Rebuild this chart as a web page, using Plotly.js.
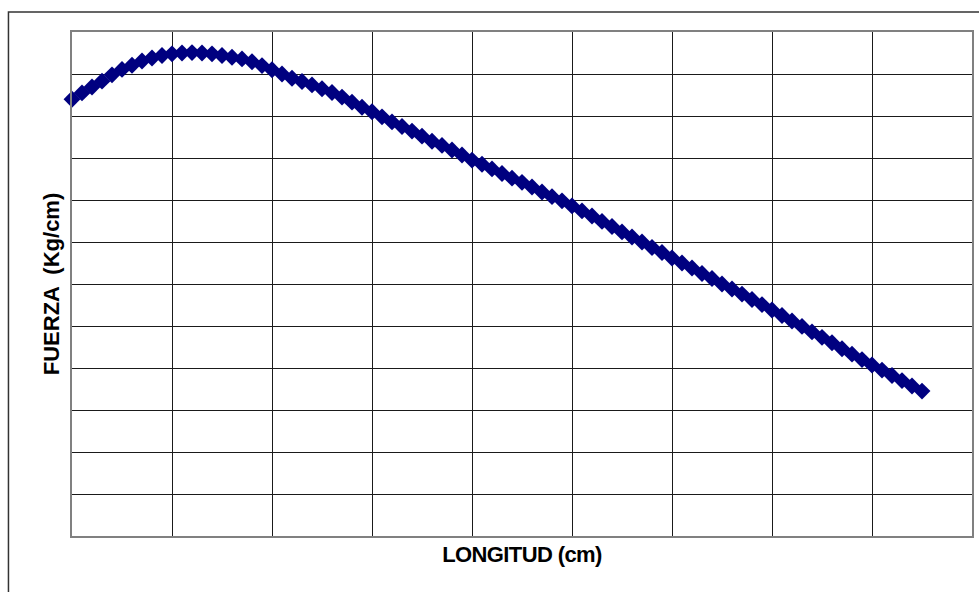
<!DOCTYPE html>
<html>
<head>
<meta charset="utf-8">
<script src="https://cdn.plot.ly/plotly-3.0.1.min.js"></script>
<style>
  html, body { margin: 0; padding: 0; background: #ffffff; }
  #chart { width: 979px; height: 592px; }
  .xtitle { letter-spacing: -0.6px; }
</style>
</head>
<body>
<div id="chart"></div>
<script>
// LONGITUD (cm)
const longitud = [
  0.0, 0.1, 0.2, 0.3, 0.4, 0.5, 0.6, 0.7, 0.8, 0.9,
  1.0, 1.1, 1.2, 1.3, 1.4, 1.5, 1.6, 1.7, 1.8, 1.9,
  2.0, 2.1, 2.2, 2.3, 2.4, 2.5, 2.6, 2.7, 2.8, 2.9,
  3.0, 3.1, 3.2, 3.3, 3.4, 3.5, 3.6, 3.7, 3.8, 3.9,
  4.0, 4.1, 4.2, 4.3, 4.4, 4.5, 4.6, 4.7, 4.8, 4.9,
  5.0, 5.1, 5.2, 5.3, 5.4, 5.5, 5.6, 5.7, 5.8, 5.9,
  6.0, 6.1, 6.2, 6.3, 6.4, 6.5, 6.6, 6.7, 6.8, 6.9,
  7.0, 7.1, 7.2, 7.3, 7.4, 7.5, 7.6, 7.7, 7.8, 7.9,
  8.0, 8.1, 8.2, 8.3, 8.4, 8.5
];
// FUERZA (Kg/cm)
const fuerza = [
  10.40, 10.55, 10.69, 10.83, 10.98, 11.11, 11.21, 11.31, 11.38, 11.44,
  11.48, 11.50, 11.51, 11.50, 11.48, 11.44, 11.40, 11.36, 11.29, 11.20,
  11.10, 11.00, 10.90, 10.82, 10.74, 10.65, 10.56, 10.45, 10.33, 10.21,
  10.10, 9.98, 9.86, 9.75, 9.64, 9.52, 9.40, 9.30, 9.19, 9.07,
  8.95, 8.85, 8.74, 8.63, 8.52, 8.42, 8.31, 8.19, 8.08, 7.98,
  7.86, 7.74, 7.62, 7.49, 7.37, 7.24, 7.12, 7.00, 6.87, 6.75,
  6.62, 6.50, 6.38, 6.25, 6.13, 6.00, 5.88, 5.76, 5.63, 5.51,
  5.38, 5.25, 5.12, 4.99, 4.86, 4.73, 4.60, 4.46, 4.33, 4.20,
  4.07, 3.95, 3.82, 3.70, 3.57, 3.45
];
const xTitle = 'LONGITUD (cm)';
const yTitle = 'FUERZA  (Kg/cm)';

const trace = {
  type: 'scatter',
  mode: 'markers',
  x: longitud,
  y: fuerza,
  cliponaxis: false,
  marker: { symbol: 'diamond', size: 13, color: '#000080', line: { width: 0 } },
  hoverinfo: 'x+y',
  showlegend: false
};

const layout = {
  width: 979,
  height: 592,
  margin: { l: 72, r: 7, t: 32, b: 56 },
  paper_bgcolor: '#ffffff',
  plot_bgcolor: '#ffffff',
  font: { family: 'Liberation Sans, Arial, sans-serif', color: '#000000' },
  xaxis: {
    range: [0, 9],
    dtick: 1,
    tick0: 0,
    showticklabels: false,
    ticks: '',
    showgrid: true,
    gridcolor: '#1a1a1a',
    gridwidth: 1,
    zeroline: false,
    showline: true,
    mirror: true,
    linecolor: '#808080',
    linewidth: 2,
    title: {
      text: xTitle,
      font: { family: 'Liberation Sans, Arial, sans-serif', size: 22, color: '#000000', weight: 'bold' },
      standoff: 10
    },
    automargin: false
  },
  yaxis: {
    range: [0, 12],
    dtick: 1,
    tick0: 0,
    showticklabels: false,
    ticks: '',
    showgrid: true,
    gridcolor: '#1a1a1a',
    gridwidth: 1,
    zeroline: false,
    showline: true,
    mirror: true,
    linecolor: '#808080',
    linewidth: 2,
    title: {
      text: yTitle,
      font: { family: 'Liberation Sans, Arial, sans-serif', size: 22, color: '#000000', weight: 'bold' },
      standoff: 4
    },
    automargin: false
  },
  shapes: [
    {
      type: 'rect', xref: 'paper', yref: 'paper',
      x0: -0.0706, x1: 1.2, y0: -0.2, y1: 1.0397,
      line: { color: '#333333', width: 1.5 },
      fillcolor: 'rgba(0,0,0,0)',
      layer: 'below'
    }
  ]
};

Plotly.newPlot('chart', [trace], layout, { displayModeBar: false, staticPlot: true });
</script>
</body>
</html>
